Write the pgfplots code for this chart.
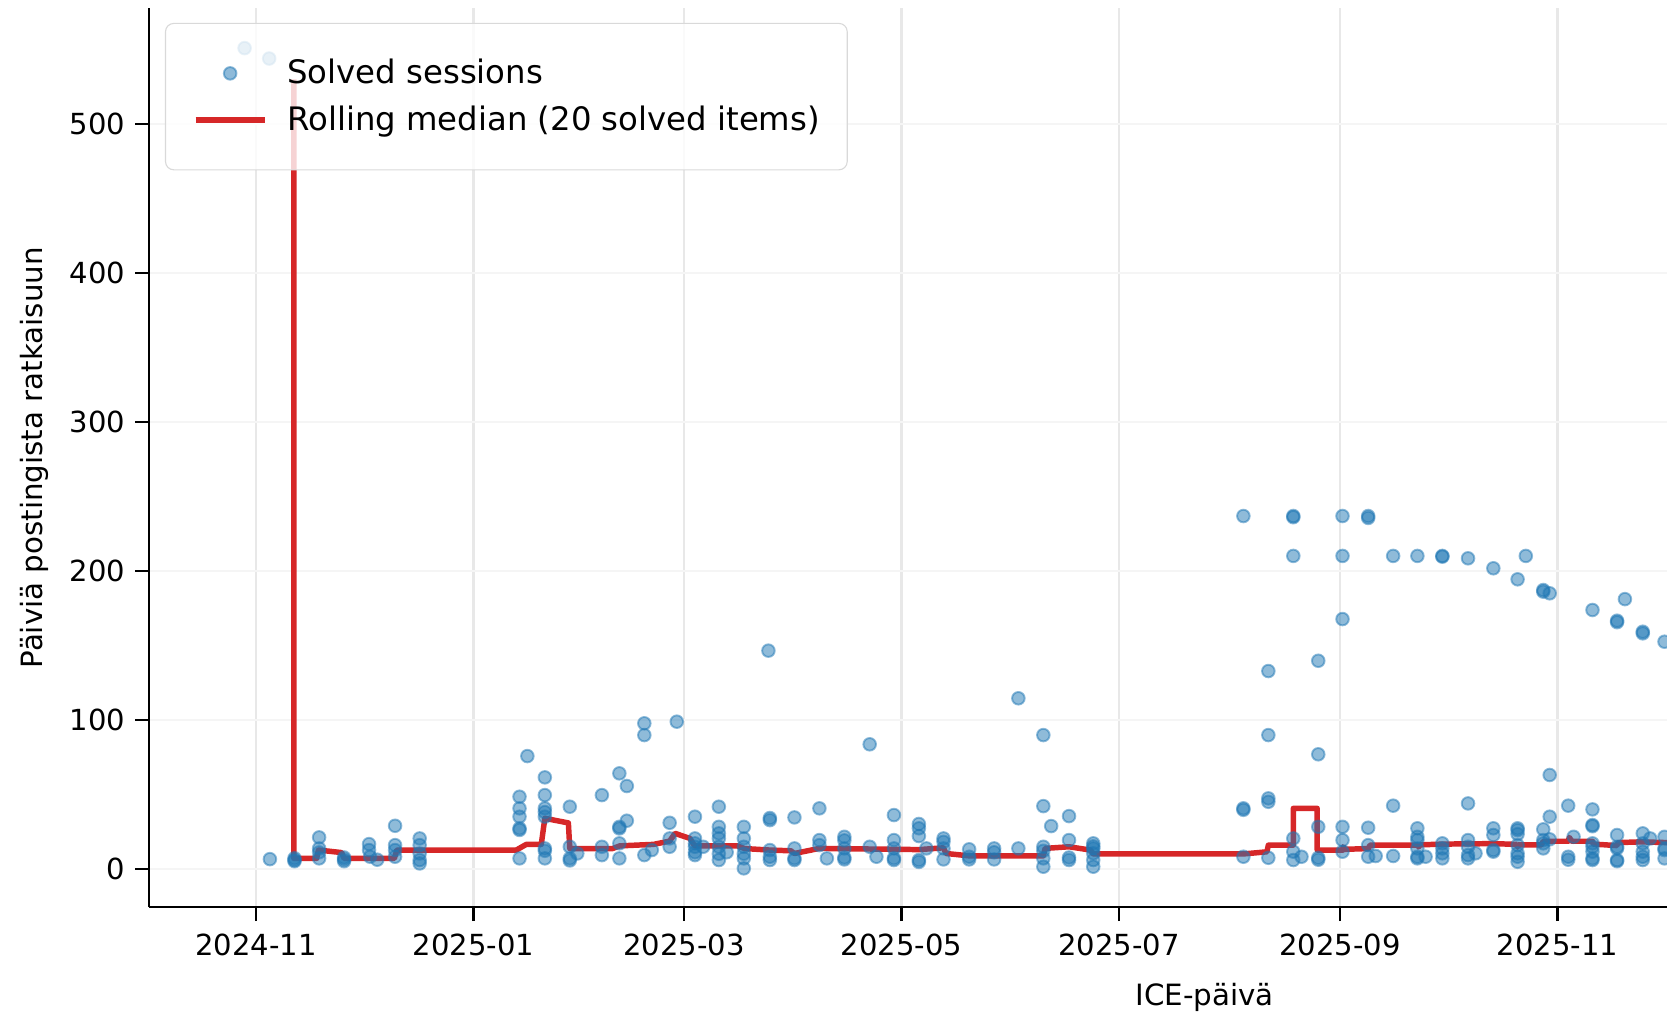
\documentclass[border=0pt]{standalone}
\usepackage{fontspec}
\setmainfont{DejaVu Sans}
\usepackage{pgfplots}
\pgfplotsset{compat=1.18}
\definecolor{tabblue}{HTML}{1F77B4}
\definecolor{tabred}{HTML}{D62728}
\pgfplotsset{
  dotlegend/.style={legend image code/.code={\draw[##1] plot[only marks] coordinates {(12.6pt,0pt)};}},
  linelegend/.style={legend image code/.code={\draw[##1] (0pt,0pt) -- (25.2pt,0pt);}},
}
\begin{document}
\begin{tikzpicture}
\begin{axis}[
  scale only axis,
  width=554.1pt, height=328pt,
  xmin=-30.0, xmax=395.7,
  ymin=-25.8, ymax=577.6,
  axis x line*=bottom, axis y line*=left,
  axis line style={line width=0.8pt, black},
  tick align=outside,
  major tick length=5.1pt,
  every tick/.style={black, line width=0.8pt},
  xtick={0,61,120,181,242,304,365},
  xticklabels={2024-11,2025-01,2025-03,2025-05,2025-07,2025-09,2025-11},
  ytick={0,100,200,300,400,500},
  /pgf/number format/assume math mode=true,
  ticklabel style={font=\fontsize{10.6}{12}\selectfont},
  xticklabel style={yshift=-1.2pt},
  xmajorgrids, ymajorgrids,
  x grid style={black!9, line width=0.8pt},
  y grid style={black!4, line width=0.8pt},
  xlabel={ICE-päivä},
  ylabel={Päiviä postingista ratkaisuun},
  label style={font=\fontsize{10.7}{12}\selectfont},
  x label style={at={(axis description cs:0.6954,0)}, anchor=base, yshift=-35.8pt},
  y label style={at={(axis description cs:-0.0703,0.5)}, anchor=base},
  legend cell align=left,
  legend style={at={(axis description cs:0.0105,0.984)}, anchor=north west,
    font=\fontsize{11.8}{14}\selectfont,
    draw=black!15, fill=white, fill opacity=0.8, draw opacity=1, text opacity=1,
    rounded corners=3pt, inner xsep=10pt, inner ysep=10.5pt,
    nodes={inner xsep=0pt, inner ysep=2.5pt}, row sep=1.5pt, column sep=7.3pt},
]
\addplot[only marks, mark=*, mark size=2.3pt,
  mark options={draw=tabblue, fill=tabblue, draw opacity=0.5, fill opacity=0.5, line width=0.7pt},
  dotlegend]
table {
x y
-3.2 551
3.7 544
3.9 6.4
10.8 5.8
10.8 5
10.8 7
17.7 21
17.7 13.6
17.7 6.9
17.7 11
24.7 6.2
24.7 5
24.7 7.5
31.7 16.5
31.7 12.5
32 8
34 6
39 28.8
39 15.8
39 12.5
39 8
45.9 20.3
45.9 15.8
45.9 10.2
45.9 5.8
45.9 3.5
73.9 48.3
73.9 40.5
73.9 34.9
73.9 27.1
73.9 26
73.9 6.9
76.1 75.6
81 61.3
81 49.4
81 40.5
81 38
81 34.9
81 13.6
81 12
81 6.9
88 41.6
88 14.7
88 6.9
88 5.5
90.1 10.2
97 49.4
97 14.7
97 9.1
101.9 64
101.9 28.1
101.9 27
101.9 17
101.9 6.9
104 55.5
104 32.2
108.9 97.6
108.9 89.7
108.9 9.1
111 12.5
116 30.8
116 20.3
116 14.7
118 98.7
123.1 34.9
123.1 20.3
123.1 17
123.1 14.7
123.1 9.1
123.1 11
125.4 14.7
129.8 41.6
129.8 28.1
129.8 23.7
129.8 20.3
129.8 14.7
129.8 10
129.8 5.8
132 11
136.8 28.1
136.8 20.3
136.8 14.7
136.8 10
136.8 6.9
136.8 0.2
143.7 146.4
144.1 32.6
144.1 34
144.1 12.5
144.1 5.8
144.1 8
151 34.4
151 13.6
151 5.8
151 7
158 40.5
158 19.2
158 15.8
160.1 6.9
165 21.4
165 19
165 13.6
165 6.2
165 7.5
172.1 83.5
172.1 14.7
174 8
178.9 36
178.9 19.2
178.9 13.6
178.9 5.8
178.9 7
185.9 30
185.9 27.1
185.9 21.9
185.9 5.8
185.9 4.5
188 13.6
192.8 20.3
192.8 18
192.8 13.6
192.8 6.2
200 13
200 6.2
200 8
207 13.6
207 6.2
207 11
213.8 114.4
213.8 13.6
220.8 89.7
220.8 42
220.8 14.7
220.8 12
220.8 6.9
220.8 1.3
223 28.6
228 35.3
228 19.2
228 5.8
228 7.5
234.8 17
234.8 15
234.8 13.6
234.8 10.3
234.8 5.8
234.8 1.3
276.9 236.8
276.9 40.5
276.9 39.5
276.9 8
283.9 132.7
283.9 89.7
283.9 47.2
283.9 44.9
283.9 7.3
290.9 236.8
290.9 236
290.9 210
290.9 20.3
290.9 11.4
290.9 5.8
293.2 8
297.9 139.6
297.9 76.8
297.9 28.1
297.9 7.3
297.9 6
304.7 236.8
304.7 210
304.7 167.6
304.7 28.1
304.7 19.2
304.7 11.4
311.9 236.8
311.9 235.5
311.9 27.5
311.9 15.8
311.9 8
314 8.5
318.9 210
318.9 42.3
318.9 8.5
325.7 210
325.7 27.1
325.7 21.4
325.7 19.2
325.7 13.6
325.7 8
325.7 6.9
328 8
332.7 210
332.7 209.5
332.7 17
332.7 13.6
332.7 10.3
332.7 6.9
339.9 208.4
339.9 43.8
339.9 19.2
339.9 14.7
339.9 9.1
339.9 6.9
342 10.3
347 201.7
347 27.1
347 22.6
347 12.5
347 11.4
353.8 194.3
353.8 27.1
353.8 25.9
353.8 23.2
353.8 15.8
353.8 10.3
353.8 8
353.8 4.6
356.1 210
361 187.1
361 186
361 26.4
361 19.2
361 17
361 13.6
362.8 184.9
362.8 62.9
362.8 34.9
362.8 19.7
368 42.3
368 8
368 6
369.5 21.4
374.8 173.7
374.8 39.8
374.8 29.3
374.8 28.5
374.8 17
374.8 14.7
374.8 11.4
374.8 6.9
374.8 5.8
381.7 166.5
381.7 165.5
381.7 22.6
381.7 14.7
381.7 13.6
381.7 5.8
381.7 5
383.9 181
388.9 159.1
388.9 158
388.9 23.7
388.9 17
388.9 11.4
388.9 8
388.9 5.8
391 20.3
395 152.4
395 21.4
395 13.6
395 12.5
395 6.9
};
\addlegendentry{Solved sessions}
\addplot[tabred, line width=2pt, line join=round, no marks, linelegend]
table {
x y
10.6 530
10.6 6.9
17 6.9
17.5 12.5
24 10.8
24.7 6.9
38.8 6.9
39.5 12.5
73 12.5
75.8 16.3
80 16.3
81 33.8
87.6 30.7
88 13.5
100 13.5
102 15.3
111.5 16.3
116 18.5
117.5 23.7
121.7 20.3
123 15.3
135 15.3
137 13.5
144 12.5
150 12
151 10.2
158 13.6
186 12.8
192.8 14
193.5 10.2
200 8.6
220.8 8.6
221.3 13.6
228 14.7
234 12.5
234.8 9.9
277 9.9
283.5 11.3
283.9 15.8
290.9 15.8
290.9 40.5
297.6 40.5
297.6 12.5
304.9 12.5
304.9 14.7
305.5 13
312 13.5
312.4 15.8
325.9 15.8
326 14.5
326.5 16
333 16.5
347 16.8
353.5 16.3
353.8 14.5
354 16
360.5 16
361 18.4
368 18.4
368.3 21
369 18.4
374.8 18.4
375 16.5
381.6 15.5
382 17.5
388.4 18
395.7 17.5
};
\addlegendentry{Rolling median (20 solved items)\hspace{2.7pt}}
\end{axis}
\pgfresetboundingbox
\path[use as bounding box] ([xshift=-54.4pt,yshift=-38pt]current axis.south west) rectangle ([yshift=3.1pt]current axis.north east);
\end{tikzpicture}
\end{document}
